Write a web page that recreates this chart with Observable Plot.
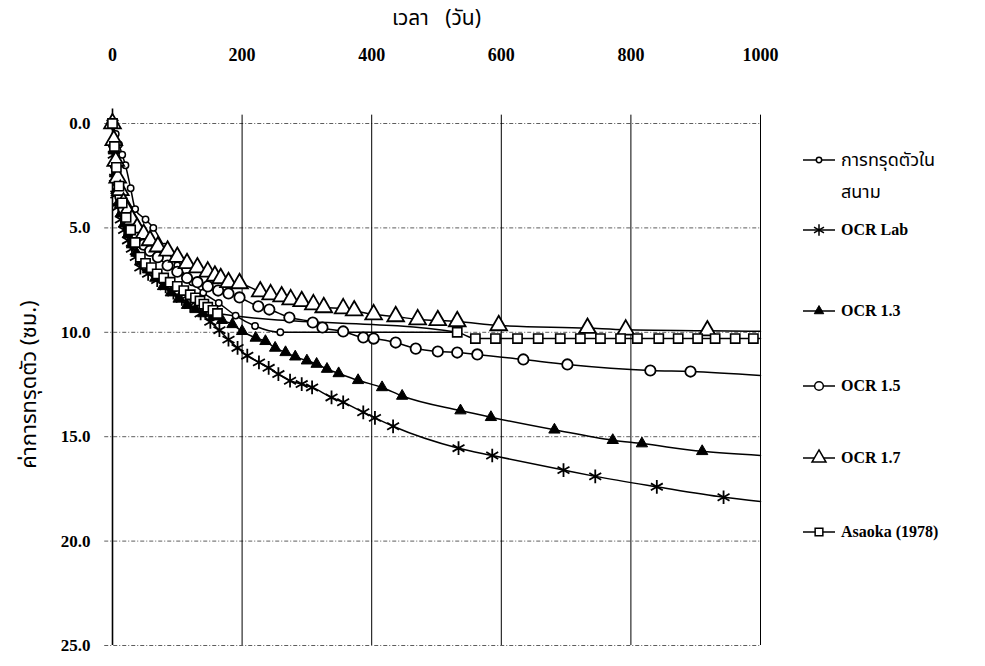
<!DOCTYPE html>
<html>
<head>
<meta charset="utf-8">
<script src="https://cdn.jsdelivr.net/npm/d3@7"></script>
<script src="https://cdn.jsdelivr.net/npm/@observablehq/plot@0.6"></script>
<style>
  body { margin: 0; background: #fff; }
  #wrap { position: relative; width: 985px; height: 666px; overflow: hidden; }
  #legend { position: absolute; left: 803px; top: 0; font-family: "Liberation Serif", "Times New Roman", serif; font-size: 16px; font-weight: bold; color: #000; }
  .item { position: absolute; display: flex; align-items: center; white-space: nowrap; }
  .item svg { margin-right: 6px; }
  .thai { font-family: "Noto Sans Thai", "Loma", "Garuda", "Noto Sans", "DejaVu Sans", sans-serif; font-weight: normal; font-size: 18px; }
</style>
</head>
<body>
<div id="wrap"><div id="legend"></div></div>
<script>
// Settlement (cm) against time (days) for field readings and predictions
const seriesNames = ["การทรุดตัวในสนาม", "OCR Lab", "OCR 1.3", "OCR 1.5", "OCR 1.7", "Asaoka (1978)"];

const fieldT = [0, 5, 10, 15, 20, 28, 35, 51, 63, 80, 100, 123, 140, 164, 190, 220, 259, 532];
const fieldV = [0, 0.5, 1.0, 1.5, 2.0, 3.1, 4.1, 4.6, 5.0, 5.9, 6.8, 7.6, 8.1, 8.6, 9.2, 9.7, 10.0, 10.0];

const labT = [0, 2, 4, 6, 9, 13, 18, 24, 30, 36, 43, 55, 69, 82, 94, 107, 120, 136, 151, 165, 179, 193, 208, 226, 241, 256, 274, 292, 308, 338, 356, 387, 405, 433, 534, 586, 696, 745, 840, 943];
const labV = [0, 1.5, 2.6, 3.4, 4.0, 4.6, 5.1, 5.6, 6.0, 6.4, 6.9, 7.2, 7.5, 7.8, 8.1, 8.4, 8.7, 9.1, 9.5, 9.9, 10.35, 10.75, 11.12, 11.44, 11.7, 12.0, 12.32, 12.48, 12.64, 13.12, 13.35, 13.83, 14.1, 14.5, 15.55, 15.9, 16.6, 16.9, 17.4, 17.9];

const ocr13T = [0, 2, 4, 6, 9, 13, 18, 24, 30, 37, 45, 55, 66, 78, 90, 102, 115, 128, 140, 155, 169, 185, 200, 221, 236, 251, 267, 282, 300, 315, 331, 349, 379, 416, 447, 537, 584, 682, 772, 817, 910];
const ocr13V = [0, 1.3, 2.4, 3.2, 3.8, 4.3, 4.8, 5.3, 5.8, 6.2, 6.6, 7.0, 7.4, 7.8, 8.1, 8.4, 8.7, 8.9, 9.1, 9.25, 9.42, 9.62, 9.95, 10.27, 10.43, 10.75, 10.96, 11.17, 11.36, 11.52, 11.76, 11.97, 12.3, 12.64, 13.05, 13.75, 14.07, 14.67, 15.17, 15.33, 15.7];

const ocr15T = [0, 2, 5, 8, 12, 17, 23, 30, 38, 48, 58, 70, 85, 100, 115, 131, 147, 163, 179, 196, 225, 242, 273, 309, 324, 356, 387, 403, 437, 468, 502, 532, 563, 634, 702, 830, 892];
const ocr15V = [0, 1.0, 2.0, 2.8, 3.5, 4.1, 4.6, 5.0, 5.4, 5.8, 6.1, 6.4, 6.8, 7.1, 7.4, 7.6, 7.8, 8.0, 8.14, 8.33, 8.76, 8.91, 9.29, 9.53, 9.77, 9.96, 10.25, 10.3, 10.49, 10.78, 10.92, 10.97, 11.06, 11.3, 11.54, 11.83, 11.88];

const ocr17T = [0, 2, 5, 8, 12, 17, 23, 30, 38, 48, 58, 70, 85, 100, 115, 131, 147, 158, 167, 179, 196, 228, 244, 261, 275, 292, 310, 326, 356, 373, 403, 437, 471, 502, 532, 596, 733, 792, 918];
const ocr17V = [0, 0.8, 1.8, 2.6, 3.2, 3.8, 4.2, 4.6, 5.0, 5.3, 5.6, 5.9, 6.1, 6.4, 6.7, 6.9, 7.1, 7.3, 7.42, 7.61, 7.66, 8.05, 8.19, 8.29, 8.43, 8.52, 8.67, 8.81, 8.86, 8.96, 9.15, 9.24, 9.39, 9.43, 9.48, 9.67, 9.8, 9.88, 9.92];

const asaokaT = [0, 3, 6, 10, 15, 21, 28, 35, 43, 51, 60, 69, 79, 89, 100, 110, 120, 128, 135, 141, 147, 155, 162, 532, 560, 591, 625, 657, 691, 722, 753, 784, 810, 843, 873, 903, 930, 961, 989];
const asaokaV = [0, 1.1, 2.1, 3.0, 3.8, 4.5, 5.1, 5.7, 6.4, 6.7, 6.9, 7.2, 7.4, 7.6, 7.8, 8.0, 8.2, 8.35, 8.5, 8.65, 8.8, 8.95, 9.1, 10.0, 10.3, 10.3, 10.3, 10.3, 10.3, 10.3, 10.3, 10.3, 10.3, 10.3, 10.3, 10.3, 10.3, 10.3, 10.3];

// Curves run on to day 1000 without a marker
const lineEndT = 1000;
const lineEndV = [null, 18.1, 15.9, 12.07, 9.95, 10.3];

const xTicks = [0, 200, 400, 600, 800, 1000];
const yTicks = [0, 5, 10, 15, 20, 25];

const seriesData = [
  [fieldT, fieldV], [labT, labV], [ocr13T, ocr13V],
  [ocr15T, ocr15V], [ocr17T, ocr17V], [asaokaT, asaokaV]
];

// Marker style per series
const markerStyle = [
  {symbol: "circle", r: 3.2, fill: "white", strokeWidth: 1.5},
  {symbol: "asterisk", r: 6.5, fill: "none", strokeWidth: 1.8},
  {symbol: "triangle", r: 4.2, fill: "black", strokeWidth: 1},
  {symbol: "circle", r: 5.2, fill: "white", strokeWidth: 1.8},
  {symbol: "triangle", r: 6.2, fill: "white", strokeWidth: 1.8},
  {symbol: "square", r: 5.2, fill: "white", strokeWidth: 1.6}
];

const points = seriesData.map(([ts, vs], i) => ts.map((t, k) => ({name: seriesNames[i], t, v: vs[k]})));
const lines = points.map((pts, i) => lineEndV[i] == null ? pts : pts.concat([{name: seriesNames[i], t: lineEndT, v: lineEndV[i]}]));

const serif = "'Liberation Serif', 'Times New Roman', serif";
const thai = "'Noto Sans Thai', Loma, Garuda, 'Noto Sans', 'DejaVu Sans', sans-serif";

const marks = [
  Plot.ruleY(yTicks, {x1: -12, x2: 1000, stroke: "#333", strokeWidth: 0.8, strokeDasharray: "4,2,1,2", clip: false}),
  Plot.ruleX(xTicks.slice(1), {y1: -0.4, y2: 25, stroke: "#000", strokeWidth: 1}),
  Plot.ruleX([0], {y1: -0.7, y2: 25, stroke: "#000", strokeWidth: 1.6}),
  // tick labels
  Plot.axisX({
    anchor: "top", ticks: xTicks, tickSize: 0, tickPadding: 63,
    tickFormat: d => String(d),
    fontSize: 18, fontWeight: "bold", fontFamily: serif, label: null
  }),
  Plot.axisY({
    anchor: "left", ticks: yTicks, tickSize: 0, tickPadding: 22,
    tickFormat: d => d.toFixed(1),
    fontSize: 17, fontWeight: "bold", fontFamily: serif, label: null
  }),
  // axis titles
  Plot.axisX({
    anchor: "top", ticks: [], tickSize: 0,
    fontSize: 21, fontFamily: thai,
    label: "เวลา\u00a0\u00a0\u00a0(วัน)", labelAnchor: "center", labelArrow: "none", labelOffset: 113
  }),
  Plot.axisY({
    anchor: "left", ticks: [], tickSize: 0,
    fontSize: 22, fontFamily: thai,
    label: "ค่าการทรุดตัว (ซม.)", labelAnchor: "center", labelArrow: "none", labelOffset: 92
  })
];

lines.forEach(pts => {
  marks.push(Plot.line(pts, {x: "t", y: "v", curve: "monotone-x", stroke: "#000", strokeWidth: 1.5}));
});
points.forEach((pts, i) => {
  const s = markerStyle[i];
  marks.push(Plot.dot(pts, {x: "t", y: "v", symbol: s.symbol, r: s.r, fill: s.fill, stroke: "#000", strokeWidth: s.strokeWidth}));
});

const chart = Plot.plot({
  width: 985,
  height: 666,
  marginTop: 123,
  marginBottom: 21,
  marginLeft: 112,
  marginRight: 225,
  style: {background: "#fff", color: "#000", fontFamily: serif, overflow: "visible"},
  x: {domain: [0, 1000]},
  y: {domain: [0, 25], reverse: true},
  marks
});
document.getElementById("wrap").prepend(chart);
chart.style.position = "absolute";
chart.style.left = "0";
chart.style.top = "0";

// Legend at the right of the plot
const legendRows = [
  {i: 0, y: 160, second: "สนาม", secondY: 192},
  {i: 1, y: 230},
  {i: 2, y: 311},
  {i: 3, y: 386},
  {i: 4, y: 458},
  {i: 5, y: 532}
];
const legend = d3.select("#legend");
const symbolMap = {circle: d3.symbolCircle, asterisk: d3.symbolAsterisk, triangle: d3.symbolTriangle, square: d3.symbolSquare};
legendRows.forEach(row => {
  const s = markerStyle[row.i];
  const item = legend.append("div").attr("class", "item").style("top", (row.y - 11) + "px").style("height", "22px");
  const svg = item.append("svg").attr("width", 32).attr("height", 22);
  svg.append("line").attr("x1", 0).attr("x2", 32).attr("y1", 11).attr("y2", 11).attr("stroke", "#000").attr("stroke-width", 1.5);
  svg.append("path")
    .attr("transform", "translate(16,11)")
    .attr("d", d3.symbol(symbolMap[s.symbol], Math.PI * s.r * s.r * 0.7)())
    .attr("fill", s.fill).attr("stroke", "#000").attr("stroke-width", Math.min(s.strokeWidth, 1.5));
  const label = row.i === 0 ? "การทรุดตัวใน" : seriesNames[row.i];
  item.append("span").attr("class", row.i === 0 ? "thai" : null).text(label);
  if (row.second) {
    legend.append("div").attr("class", "item thai").style("top", (row.secondY - 11) + "px").style("left", "38px").style("height", "22px").text(row.second);
  }
});
</script>
</body>
</html>
